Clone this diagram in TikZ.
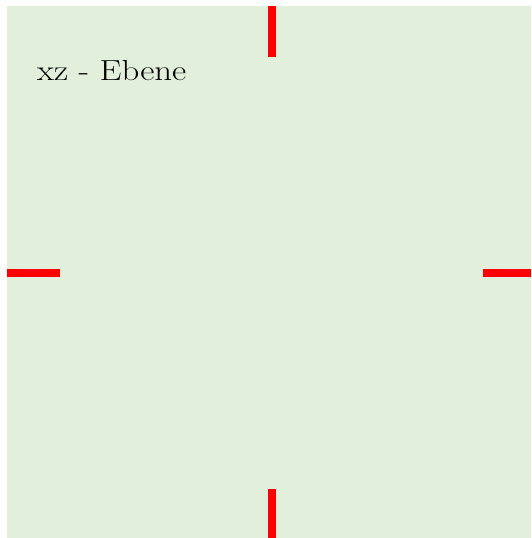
\documentclass[tikz,border=0pt]{standalone}
\usepackage{graphicx}
\definecolor{planegreen}{HTML}{E2EFDA}
\definecolor{tickred}{HTML}{FF0000}
\begin{document}
\begin{tikzpicture}[x=1pt,y=1pt,
  tick/.style={draw=tickred,line width=8pt},
  lbl/.style={anchor=base west,inner sep=0pt,font=\fontsize{29}{34}\selectfont}]
\useasboundingbox (0,0) rectangle (531,538);
\fill[planegreen] (7,0) rectangle (531,532);
\coordinate (t1) at (272,532); \coordinate (t2) at (272,481);
\coordinate (b1) at (272,0);   \coordinate (b2) at (272,49);
\coordinate (l1) at (7,265);   \coordinate (l2) at (60,265);
\coordinate (r1) at (483,265); \coordinate (r2) at (531,265);
\draw[tick] (t1) -- (t2);
\draw[tick] (b1) -- (b2);
\draw[tick] (l1) -- (l2);
\draw[tick] (r1) -- (r2);
\node[lbl] (title) at (37,457) {\scalebox{1.2}[1]{xz - Ebene}};
\end{tikzpicture}
\end{document}
